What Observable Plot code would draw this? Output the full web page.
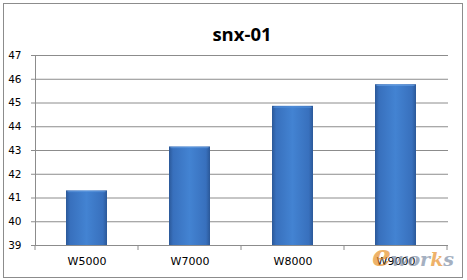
<!DOCTYPE html>
<html>
<head>
<meta charset="utf-8">
<script src="https://cdn.jsdelivr.net/npm/d3@7"></script>
<script src="https://cdn.jsdelivr.net/npm/@observablehq/plot@0.6"></script>
<style>
  html, body { margin: 0; padding: 0; background: #fff; }
  #wrap { position: relative; width: 467px; height: 280px; overflow: hidden; }
  #border { position: absolute; left: 3px; top: 3px; width: 458px; height: 273px; border: 1px solid #8c8c8c; pointer-events: none; }
  #wm { position: absolute; left: 372px; top: 238px; font-family: "DejaVu Serif", serif; font-style: italic; font-weight: bold; opacity: 0.7; pointer-events: none; }
  #wm .e { color: #e8922c; font-size: 30px; }
  #wm .w { color: #7f8fa8; font-size: 19px; }
  #wm .k { color: #e8922c; font-size: 19px; }
</style>
</head>
<body>
<div id="wrap"><div id="border"></div><div id="wm"><span class="e">e</span><span class="w">wor</span><span class="k">k</span><span class="w">s</span></div></div>
<script>
const title = "snx-01";
const categories = ["W5000", "W7000", "W8000", "W9000"];
const values = [41.3, 43.15, 44.86, 45.77];
const yTicks = [39, 40, 41, 42, 43, 44, 45, 46, 47];

const data = categories.map((c, i) => ({ cat: c, value: values[i] }));
const yMin = yTicks[0], yMax = yTicks[yTicks.length - 1];

const defs = () => {
  const svg = d3.create("svg:g");
  const d = svg.append("defs");
  const g = d.append("linearGradient").attr("id", "barGrad").attr("x1", 0).attr("x2", 1).attr("y1", 0).attr("y2", 0);
  [["0%", "#2b5898"], ["10%", "#3870bd"], ["50%", "#4383d2"], ["90%", "#3870bd"], ["100%", "#2b5898"]]
    .forEach(([o, c]) => g.append("stop").attr("offset", o).attr("stop-color", c));
  const c = d.append("linearGradient").attr("id", "capGrad").attr("x1", 0).attr("x2", 0).attr("y1", 0).attr("y2", 1);
  [["0%", "#6fa6e6"], ["100%", "#4383d2"]]
    .forEach(([o, col]) => c.append("stop").attr("offset", o).attr("stop-color", col));
  return svg.node();
};

// tick marks at category boundaries on the bottom axis
const boundaryTicks = (index, scales, values, dims) => {
  const x = scales.scales.x;
  const g = d3.create("svg:g");
  const step = x.step, bw = x.bandwidth;
  const xs = categories.map(c => scales.x(c) - (step - bw) / 2);
  xs.push(scales.x(categories[categories.length - 1]) + bw + (step - bw) / 2);
  const y0 = dims.height - dims.marginBottom;
  xs.forEach(px => g.append("line").attr("x1", px).attr("x2", px).attr("y1", y0).attr("y2", y0 + 5)
    .attr("stroke", "#8c8c8c"));
  return g.node();
};

const chart = Plot.plot({
  width: 467,
  height: 280,
  marginLeft: 35,
  marginRight: 19,
  marginTop: 55,
  marginBottom: 35,
  style: { fontFamily: "DejaVu Sans, sans-serif", fontSize: "11px", color: "#000", background: "transparent" },
  x: { domain: categories, paddingInner: 0.6, paddingOuter: 0.3, label: null },
  y: { domain: [yMin, yMax], label: null },
  marks: [
    defs,
    Plot.ruleY(yTicks.slice(1), { stroke: "#8c8c8c", strokeWidth: 1 }),
    Plot.barY(data, { x: "cat", y1: yMin, y2: "value", fill: "url(#barGrad)" }),
    Plot.barY(data, { x: "cat", y1: d => d.value - 0.12, y2: "value", fill: "url(#capGrad)", inset: 1, rx: 1.5 }),
    Plot.ruleY([yMin], { stroke: "#8c8c8c" }),
    Plot.frame({ anchor: "left", stroke: "#8c8c8c" }),
    Plot.axisY(yTicks, { tickSize: 4, tickPadding: 10, stroke: "#8c8c8c", fill: "#000", fontSize: 10.5, label: null }),
    Plot.axisX({ tickSize: 0, tickPadding: 12, fill: "#000", fontSize: 11, label: null }),
    boundaryTicks,
    Plot.text([title], { text: d => d, frameAnchor: "top", dy: -28, fontSize: 18.5, fontWeight: "bold",
      fontFamily: "Open Sans, sans-serif", fill: "#000" })
  ]
});

document.getElementById("wrap").prepend(chart);
</script>
</body>
</html>
